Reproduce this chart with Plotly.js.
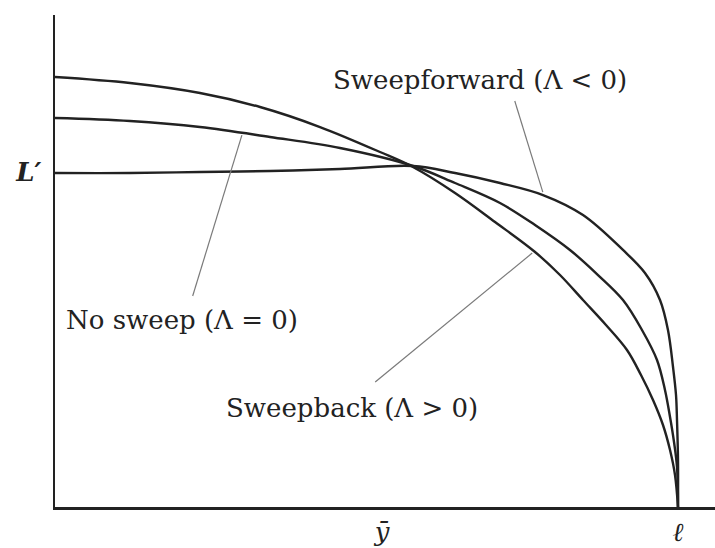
<!DOCTYPE html>
<html>
<head>
<meta charset="utf-8">
<script src="https://cdn.plot.ly/plotly-3.0.1.min.js"></script>
<style>
  html, body { margin: 0; padding: 0; background: #fff; }
  #chart { width: 715px; height: 548px; }
</style>
</head>
<body>
<div id="chart"></div>
<script>
// Spanwise lift distribution L'(y) from root (0) to tip (ℓ = 1),
// normalised so that the flat distribution sits at L' = 1.
const sweepbackX = [0, 0.1204, 0.2327, 0.3291, 0.4254, 0.5217, 0.5746, 0.6421, 0.7063, 0.7705, 0.8106, 0.8475, 0.8844, 0.9181, 0.9406, 0.9599, 0.9759, 0.9872, 0.9952, 1];
const sweepbackY = [1.2836, 1.2657, 1.2358, 1.1940, 1.1343, 1.0597, 1.0149, 0.9373, 0.8507, 0.7612, 0.6925, 0.6179, 0.5433, 0.4687, 0.3940, 0.3194, 0.2448, 0.1701, 0.0955, 0];

const noSweepX = [0, 0.1204, 0.2327, 0.3451, 0.4575, 0.5746, 0.6421, 0.7143, 0.7705, 0.8266, 0.8716, 0.9117, 0.9422, 0.9663, 0.9791, 0.9872, 0.9936, 0.9984, 1];
const noSweepY = [1.1612, 1.1522, 1.1343, 1.1045, 1.0716, 1.0179, 0.9672, 0.9075, 0.8418, 0.7672, 0.6925, 0.6179, 0.5284, 0.4388, 0.3493, 0.2687, 0.1940, 0.1194, 0];

const sweepforwardX = [0, 0.1204, 0.2327, 0.3451, 0.4575, 0.5746, 0.6421, 0.7143, 0.7833, 0.8475, 0.9117, 0.9470, 0.9711, 0.9839, 0.9920, 0.9968, 0.9984, 1, 1];
const sweepforwardY = [0.9970, 0.9970, 1.0000, 1.0030, 1.0090, 1.0179, 0.9970, 0.9672, 0.9313, 0.8716, 0.7672, 0.6985, 0.6179, 0.5284, 0.4179, 0.3343, 0.2597, 0.1403, 0];

// Axis marks
const xTickVals = [0.525, 1];
const xTickText = ['ȳ', 'ℓ'];
const yTickVals = [1];
const yTickText = ['L′'];

// Callout labels: text centre and the leader running to the curve it names
const labelText = ['Sweepforward (Λ < 0)', 'No sweep (Λ = 0)', 'Sweepback (Λ > 0)'];
const labelX = [0.682, 0.204, 0.477];
const labelY = [1.275, 0.558, 0.296];
const leaderFromX = [0.738, 0.221, 0.514];
const leaderFromY = [1.212, 0.630, 0.373];
const leaderToX = [0.783, 0.300, 0.766];
const leaderToY = [0.940, 1.110, 0.758];

const serif = 'DejaVu Serif';
const ink = '#222222';

function curve(x, y) {
  return {
    x: x, y: y, type: 'scatter', mode: 'lines',
    line: { color: ink, width: 2.4, shape: 'spline', smoothing: 1 },
    hoverinfo: 'skip', showlegend: false
  };
}

const data = [
  curve(sweepbackX, sweepbackY),
  curve(noSweepX, noSweepY),
  curve(sweepforwardX, sweepforwardY)
];

const shapes = leaderFromX.map((x0, i) => ({
  type: 'line', xref: 'x', yref: 'y',
  x0: x0, y0: leaderFromY[i], x1: leaderToX[i], y1: leaderToY[i],
  line: { color: '#7a7a7a', width: 1.2 }
}));

const annotations = labelText.map((t, i) => ({
  x: labelX[i], y: labelY[i], xref: 'x', yref: 'y',
  text: t, showarrow: false,
  font: { family: serif, size: 26, color: ink }
}));

const layout = {
  width: 715, height: 548,
  margin: { l: 55, r: 0, t: 15, b: 41 },
  paper_bgcolor: '#fff', plot_bgcolor: '#fff',
  xaxis: {
    range: [0, 660 / 623], showgrid: false, zeroline: false,
    showline: true, linecolor: ink, linewidth: 2.5,
    tickvals: xTickVals, ticktext: xTickText, ticks: '',
    tickfont: { family: serif, size: 26, color: ink, style: 'italic' },
    fixedrange: true
  },
  yaxis: {
    range: [0, 492 / 335], showgrid: false, zeroline: false,
    showline: true, linecolor: ink, linewidth: 2.5,
    tickvals: yTickVals, ticktext: yTickText, ticks: '',
    ticklabelstandoff: 6,
    tickfont: { family: serif, size: 26, color: ink, style: 'italic', weight: 'bold' },
    fixedrange: true
  },
  shapes: shapes,
  annotations: annotations
};

Plotly.newPlot('chart', data, layout, { displayModeBar: false, staticPlot: true });
</script>
</body>
</html>
